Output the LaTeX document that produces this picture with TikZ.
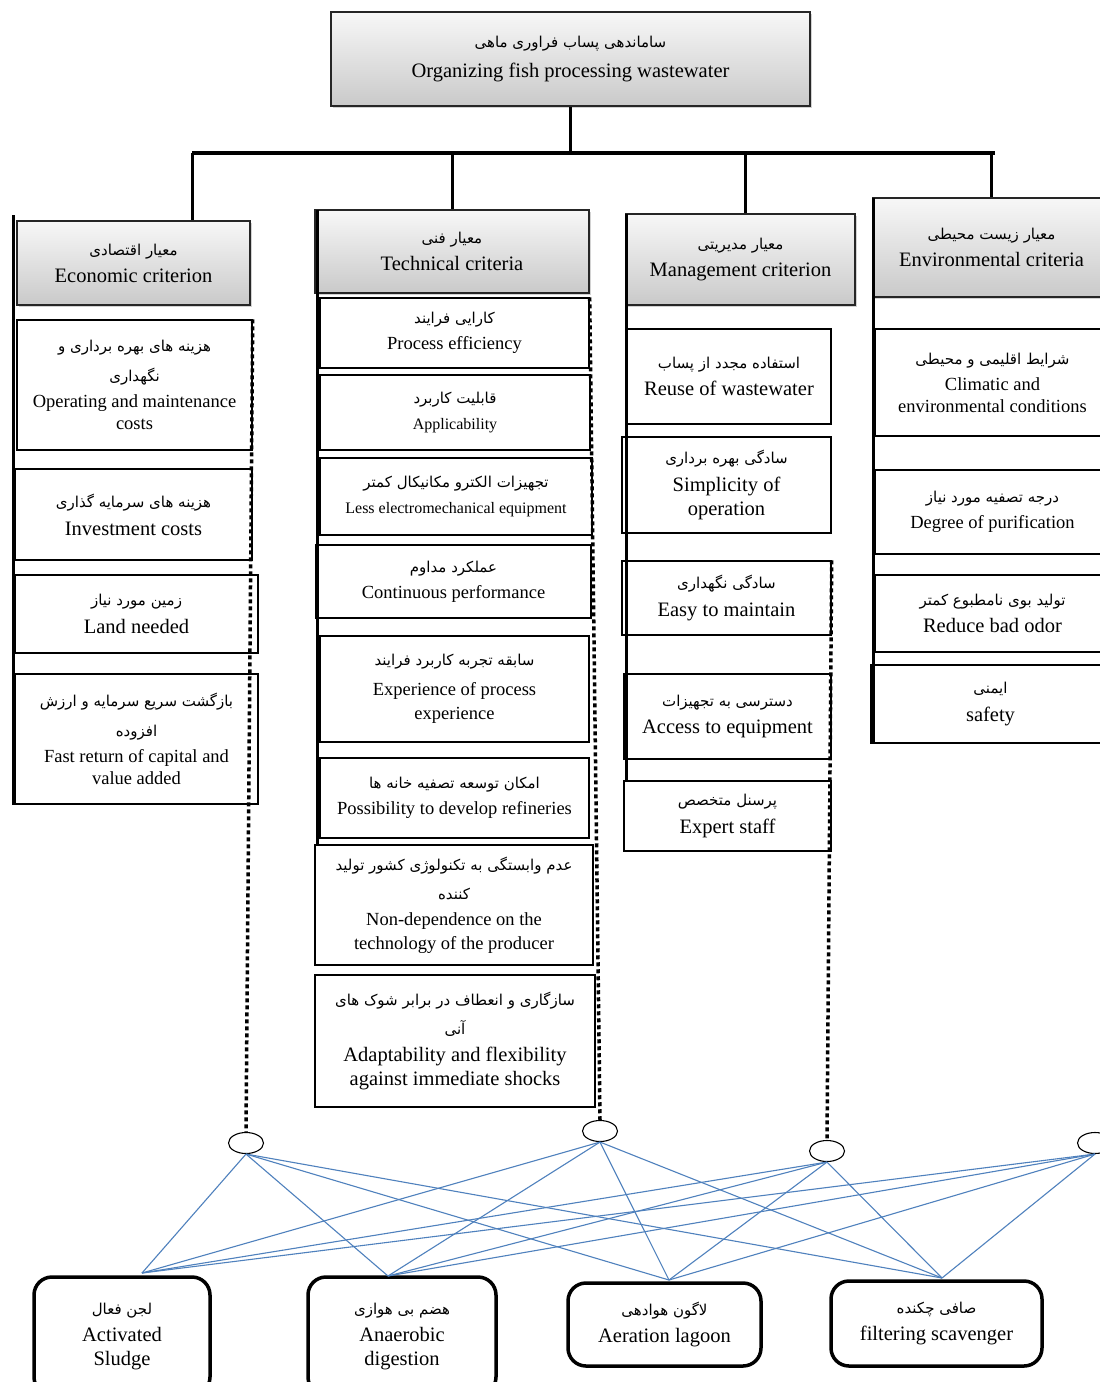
\documentclass[tikz,border=0pt]{standalone}
\usepackage{fontspec}
\setmainfont{Liberation Serif}
\newfontfamily\farsifont[Script=Arabic]{DejaVu Sans}
\TeXXeTstate=1
\usetikzlibrary{shapes.geometric,shadows}
\definecolor{linkBlue}{RGB}{79,129,189}
\newcommand\pe[1]{{\farsifont\fontsize{15}{24}\selectfont\beginR #1\endR}}

\begin{document}
\begin{tikzpicture}
[x=1pt,y=-1pt,
  headDecorate/.style={draw=black!85,line width=1.3pt,top color=gray!6,bottom color=gray!42,
    drop shadow={shadow xshift=2pt,shadow yshift=-2pt,opacity=0.35},
    align=center,inner sep=0pt,font=\fontsize{20.5}{24}\selectfont},
  boxDecorate/.style={draw,line width=1.4pt,fill=white,align=center,inner sep=0pt},
  altDecorate/.style={draw,line width=3.5pt,rounded corners=18pt,fill=white,align=center,
    inner sep=0pt,font=\fontsize{20.5}{24}\selectfont},
  circDecorate/.style={shape=ellipse,draw,line width=1.1pt,fill=white,minimum width=35pt,minimum height=21pt},
  treeDecorate/.style={-,line width=3pt},
  colDecorate/.style={-,line width=3pt},
  dotDecorate/.style={-,line width=3.5pt,dash pattern=on 4pt off 3pt},
  linkDecorate/.style={-,line width=1.1pt,draw=linkBlue}]
\clip (0,0) rectangle (1100,1382);
\fill[white] (0,0) rectangle (1100,1382);

%% goal and criteria
\node (goal) [headDecorate,minimum width=479pt,minimum height=94pt] at (570.5,59)
  {\pe{ساماندهی پساب فراوری ماهی}\\[6pt]Organizing fish processing wastewater};
\foreach \nm/\xa/\ya/\xb/\yb/\txt in {
  ecoHead/17/221/250/305/{\pe{معیار اقتصادی}\\[3pt]Economic criterion},
  techHead/315/210/589/293/{\pe{معیار فنی}\\[3pt]Technical criteria},
  manHead/626/214/855/305/{\pe{معیار مدیریتی}\\[3pt]Management criterion},
  envHead/873/198/1110/297/{\pe{معیار زیست محیطی}\\[3pt]Environmental criteria}}
{
  \node (\nm) [headDecorate,minimum width={(\xb-\xa)*1pt},minimum height={(\yb-\ya)*1pt}]
    at ({(\xa+\xb)/2},{(\ya+\yb)/2}) {\txt};
}

%% tree
\coordinate (bEco) at (192,153);
\coordinate (bTech) at (452,153);
\coordinate (bMan) at (745,153);
\coordinate (bEnv) at (991,153);
\draw[treeDecorate] (goal.south) -- (goal.south |- bEco);
\draw[line width=4pt] (bEco) -- (995,153);
\foreach \b/\h in {bEco/ecoHead, bTech/techHead, bMan/manHead, bEnv/envHead}
{
  \draw[treeDecorate] (\b) -- (\b |- \h.north);
}

%% sub-criteria
\foreach \nm/\xa/\ya/\xb/\yb/\fs/\txt in {
  eco1/17/320/252/450/18.5/{\pe{هزینه های بهره برداری و}\\[8pt]\pe{نگهداری}\\[5pt]Operating and maintenance\\costs},
  eco2/15/469/252/560/20.5/{\pe{هزینه های سرمایه گذاری}\\[4pt]Investment costs},
  eco3/15/575/258/653/20.5/{\pe{زمین مورد نیاز}\\[4pt]Land needed},
  eco4/15/674/258/804/18.5/{\pe{بازگشت سریع سرمایه و ارزش}\\[8pt]\pe{افزوده}\\[5pt]Fast return of capital and\\value added},
  tech1/320/298/589/368/18.5/{\pe{کارایی فرایند}\\[5pt]Process efficiency},
  tech2/320/375/590/450/16/{\pe{قابلیت کاربرد}\\[7pt]Applicability},
  tech3/320/458/592/535/16/{\pe{تجهیزات الکترو مکانیکال کمتر}\\[7pt]Less electromechanical equipment},
  tech4/316/545/591/618/18.5/{\pe{عملکرد مداوم}\\[5pt]Continuous performance},
  tech5/320/636/589/742/18.5/{\pe{سابقه تجربه کاربرد فرایند}\\[8pt]Experience of process\\[3pt]experience},
  tech6/320/758/589/838/18.5/{\pe{امکان توسعه تصفیه خانه ها}\\[5pt]Possibility to develop refineries},
  tech7/315/845/593/965/18.5/{\pe{عدم وابستگی به تکنولوژی کشور تولید}\\[8pt]\pe{کننده}\\[5pt]Non-dependence on the\\[2pt]technology of the producer},
  tech8/315/975/595/1107/20.5/{\pe{سازگاری و انعطاف در برابر شوک های}\\[5pt]\pe{آنی}\\[4pt]Adaptability and flexibility\\against immediate shocks},
  man1/627/329/831/424/20.5/{\pe{استفاده مجدد از پساب}\\[4pt]Reuse of wastewater},
  man2/622/437/831/533/20.5/{\pe{سادگی بهره برداری}\\[4pt]Simplicity of\\operation},
  man3/622/561/831/635/20.5/{\pe{سادگی نگهداری}\\[4pt]Easy to maintain},
  man4/624/674/831/759/20.5/{\pe{دسترسی به تجهیزات}\\[4pt]Access to equipment},
  man5/624/781/831/851/20.5/{\pe{پرسنل متخصص}\\[4pt]Expert staff},
  env1/875/329/1110/436/18.5/{\pe{شرایط اقلیمی و محیطی}\\[5pt]Climatic and\\environmental conditions},
  env2/875/470/1110/554/18.5/{\pe{درجه تصفیه مورد نیاز}\\[5pt]Degree of purification},
  env3/875/575/1110/652/20.5/{\pe{تولید بوی نامطبوع کمتر}\\[4pt]Reduce bad odor},
  env4/871/665/1110/743/20.5/{\pe{ایمنی}\\[4pt]safety}}
{
  \pgfmathsetmacro\bs{1.16*\fs}
  \node (\nm) [boxDecorate,font=\fontsize{\fs}{\bs}\selectfont,
    minimum width={(\xb-\xa)*1pt},minimum height={(\yb-\ya)*1pt}]
    at ({(\xa+\xb)/2},{(\ya+\yb)/2}) {\txt};
}

%% column lines
\draw[colDecorate] (13,215) -- (13,805);
\draw[colDecorate] (317,210) -- (317,845);
\draw[colDecorate] (626,214) -- (626,782);
\draw[colDecorate] (873,198) -- (873,743);

%% alternatives
\node (circEco) [circDecorate] at (246,1143) {};
\node (circTech) [circDecorate] at (600,1131) {};
\node (circMan) [circDecorate] at (827,1151) {};
\node (circEnv) [circDecorate] at (1095,1143) {};
\draw[dotDecorate] (eco1.north east) -- (circEco.north);
\draw[dotDecorate] (tech1.north east) -- (circTech.north);
\draw[dotDecorate] (man3.north east) -- (circMan.north);

\foreach \nm/\xa/\ya/\xb/\yb/\txt in {
  alt1/34/1277/210/1395/{\pe{لجن فعال}\\[3pt]Activated\\Sludge},
  alt2/308/1277/496/1395/{\pe{هضم بی هوازی}\\[3pt]Anaerobic\\digestion},
  alt3/568/1283/761/1366/{\pe{لاگون هوادهی}\\[3pt]Aeration lagoon},
  alt4/831/1281/1042/1366/{\pe{صافی چکنده}\\[3pt]filtering scavenger}}
{
  \node (\nm) [altDecorate,minimum width={(\xb-\xa)*1pt},minimum height={(\yb-\ya)*1pt}]
    at ({(\xa+\xb)/2},{(\ya+\yb)/2}) {\txt};
}
\coordinate (tAlt1) at (142,1273);
\coordinate (tAlt2) at (388,1276);
\coordinate (tAlt3) at (669,1280);
\coordinate (tAlt4) at (942,1278);

%% links
\foreach \c in {circEco, circTech, circMan, circEnv}
  \foreach \t in {tAlt1, tAlt2, tAlt3, tAlt4}
  {
    \draw[linkDecorate] (\c.south) -- (\t);
  }
\end{tikzpicture}
\end{document}
